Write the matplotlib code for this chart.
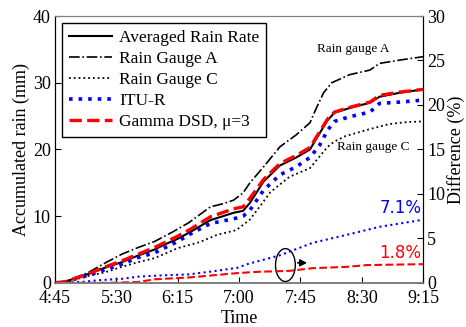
import matplotlib
matplotlib.use("Agg")
import matplotlib.pyplot as plt
from matplotlib.patches import Ellipse

plt.rcParams.update({
    "font.family": ["Liberation Serif", "DejaVu Serif"],
    "font.size": 12,
})

# ── data (minutes after 4:45) ──
t_main = [0, 8, 15, 24, 37, 49, 61, 73, 81, 90, 99, 114, 131, 138, 143, 153,
          165, 177, 187, 194, 200, 205, 216, 231, 238, 253, 270]
avg_rain = [0, 0.2, 0.7, 1.3, 2.3, 3.1, 4.1, 5.0, 5.8, 6.6, 7.6, 9.4, 10.5, 10.8,
            12.0, 15.2, 17.6, 18.8, 20.0, 22.4, 24.4, 25.5, 26.2, 27.0, 27.9, 28.5, 29.0]
gamma_rain = [0, 0.2, 0.7, 1.3, 2.4, 3.3, 4.3, 5.3, 6.1, 7.0, 8.0, 9.9, 11.1, 11.4,
              12.7, 15.5, 17.9, 19.1, 20.3, 22.6, 24.6, 25.6, 26.3, 27.1, 28.1, 28.6, 29.0]
itu_rain = [0, 0.1, 0.6, 1.1, 2.0, 2.8, 3.8, 4.5, 5.3, 6.2, 7.3, 8.9, 9.6, 10.0,
            10.9, 13.9, 16.2, 17.4, 18.8, 20.6, 22.9, 24.2, 24.9, 25.6, 26.9, 27.1, 27.4]

t_a = [0, 8, 15, 24, 37, 49, 61, 73, 86, 98, 114, 124, 131, 138, 143, 153, 165, 177,
       187, 191, 197, 203, 216, 231, 238, 253, 270]
gauge_a = [0, 0.2, 0.8, 1.5, 3.0, 4.3, 5.3, 6.2, 7.6, 9.0, 11.4, 11.9, 12.4, 13.5, 15.0,
           17.4, 20.4, 22.2, 24.0, 25.9, 28.5, 30.0, 31.2, 31.9, 32.9, 33.4, 33.9]

t_c = [0, 8, 15, 24, 37, 49, 61, 73, 90, 106, 119, 133, 143, 150, 158, 172, 187, 200,
       205, 213, 230, 245, 258, 270]
gauge_c = [0, 0.1, 0.5, 1.0, 1.6, 2.4, 3.1, 3.7, 5.2, 6.1, 7.2, 7.9, 9.5, 11.4, 13.6,
           15.9, 17.2, 20.4, 21.2, 22.0, 23.0, 23.8, 24.1, 24.2]

t_diff_itu = [0, 20, 32, 49, 61, 80, 98, 116, 134, 141, 165, 189, 214, 238, 270]
diff_itu = [0, 0.1, 0.3, 0.45, 0.7, 0.85, 0.95, 1.3, 1.7, 2.1, 3.1, 4.5, 5.4, 6.3, 7.1]
t_diff_gamma = [0, 40, 61, 73, 98, 116, 134, 150, 172, 189, 214, 229, 270]
diff_gamma = [0, 0.0, 0.1, 0.4, 0.6, 0.85, 1.1, 1.25, 1.35, 1.65, 1.8, 2.0, 2.1]

tick_pos = [0, 45, 90, 135, 180, 225, 270]
tick_labels = ["4:45", "5:30", "6:15", "7:00", "7:45", "8:30", "9:15"]

fig = plt.figure(figsize=(4.66, 3.27), dpi=100)
ax = fig.add_axes([0.118, 0.135, 0.790, 0.816])
ax2 = ax.twinx()

# main curves
ax.plot(t_main, avg_rain, "-", color="black", lw=1.5, label="Averaged Rain Rate")
ax.plot(t_a, gauge_a, "-.", color="black", lw=1.2, label="Rain Gauge A")
ax.plot(t_c, gauge_c, ":", color="black", lw=1.3, label="Rain Gauge C")
ax.plot(t_main, itu_rain, ":", color="blue", lw=2.6, label="ITU-R")
ax.plot(t_main, gamma_rain, "--", color="red", lw=2.4, label="Gamma DSD, μ=3")

# difference curves (right axis)
ax2.plot(t_diff_itu, diff_itu, ":", color="blue", lw=1.5)
ax2.plot(t_diff_gamma, diff_gamma, "--", color="red", lw=1.5)

ax.set_xlim(0, 270)
ax.set_ylim(0, 40)
ax2.set_ylim(0, 30)
ax.set_xticks(tick_pos)
ax.set_xticklabels(tick_labels)
ax.set_yticks([0, 10, 20, 30, 40])
ax2.set_yticks([0, 5, 10, 15, 20, 25, 30])

for a in (ax, ax2):
    a.tick_params(direction="in", length=4, width=0.8, labelsize=13, pad=3)
ax.tick_params(axis="x", pad=5)

for a in (ax, ax2):
    a.spines["top"].set_color("#808080")
    a.spines["bottom"].set_color("#808080")
    a.spines["bottom"].set_linewidth(1.2)

ax.set_xlabel("Time", fontsize=13, labelpad=2)
ax.set_ylabel("Accumulated rain (mm)", fontsize=13, labelpad=2)
ax2.set_ylabel("Difference (%)", fontsize=13, labelpad=1)

leg = ax.legend(loc="upper left", bbox_to_anchor=(0.019, 0.974), borderaxespad=0,
                fancybox=False, edgecolor="black", framealpha=1, fontsize=12.5,
                handlelength=2.5, labelspacing=0.28, borderpad=0.4, handletextpad=0.4)
leg.get_frame().set_linewidth(1.0)

# annotations
ax.text(0.81, 0.877, "Rain gauge A", transform=ax.transAxes, fontsize=9.5, ha="center", va="center")
ax.text(0.865, 0.508, "Rain gauge C", transform=ax.transAxes, fontsize=9.5, ha="center", va="center")
ax2.text(0.995, 0.282, "7.1%", transform=ax2.transAxes, color="blue", fontsize=12,
         family="DejaVu Sans", ha="right", va="center")
ax2.text(0.995, 0.113, "1.8%", transform=ax2.transAxes, color="red", fontsize=12,
         family="DejaVu Sans", ha="right", va="center")

ax2.add_patch(Ellipse((169, 2.0), 14.5, 3.7, fill=False, edgecolor="black", lw=1.0))
ax2.annotate("", xy=(187, 2.25), xytext=(176, 2.25),
             arrowprops=dict(arrowstyle="-|>", color="black", lw=1.2, mutation_scale=10))

fig.savefig("out.png", dpi=100)
